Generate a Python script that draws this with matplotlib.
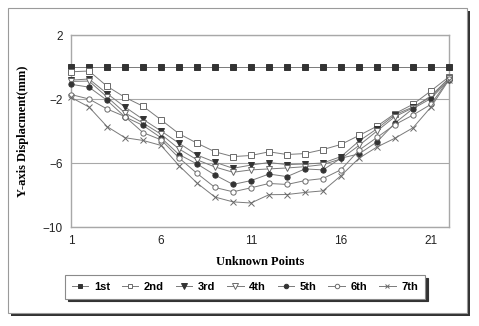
import matplotlib
matplotlib.use("Agg")
import matplotlib.pyplot as plt
from matplotlib.patches import Rectangle

# Survey epochs and measured vertical displacement (mm) at unknown points 1..22
points = list(range(1, 23))
series_names = ["1st", "2nd", "3rd", "4th", "5th", "6th", "7th"]

disp_1st = [0.0] * 22
disp_2nd = [-0.30, -0.25, -1.20, -1.90, -2.45, -3.30, -4.17, -4.76, -5.30, -5.60, -5.53,
            -5.30, -5.47, -5.41, -5.16, -4.84, -4.28, -3.70, -2.91, -2.33, -1.49, -0.61]
disp_3rd = [-0.82, -0.75, -1.66, -2.50, -3.27, -4.00, -4.76, -5.50, -5.95, -6.33, -6.13,
            -5.97, -6.10, -6.06, -6.00, -5.60, -4.63, -3.86, -2.98, -2.50, -1.87, -0.70]
disp_4th = [-0.90, -0.88, -1.87, -2.87, -3.50, -4.20, -5.12, -5.80, -6.25, -6.58, -6.43,
            -6.37, -6.31, -6.23, -6.10, -5.74, -4.90, -4.00, -3.10, -2.55, -1.80, -0.70]
disp_5th = [-1.08, -1.26, -2.08, -3.12, -3.65, -4.42, -5.47, -6.06, -6.75, -7.34, -7.10,
            -6.69, -6.85, -6.37, -6.43, -5.70, -5.43, -4.68, -3.50, -2.60, -1.97, -0.80]
disp_6th = [-1.72, -2.00, -2.62, -3.10, -4.10, -4.55, -5.68, -6.65, -7.53, -7.80, -7.55,
            -7.28, -7.34, -7.10, -6.97, -6.42, -5.20, -4.40, -3.60, -3.00, -2.33, -0.75]
disp_7th = [-1.90, -2.50, -3.72, -4.42, -4.59, -4.90, -6.16, -7.25, -8.13, -8.43, -8.50,
            -7.98, -7.97, -7.84, -7.74, -6.79, -5.70, -5.00, -4.45, -3.80, -2.50, -0.80]

x_ticks = [1, 6, 11, 16, 21]
y_ticks = [2, -2, -6, -10]

all_series = [disp_1st, disp_2nd, disp_3rd, disp_4th, disp_5th, disp_6th, disp_7th]

W, H, DPI = 479, 326, 100
fig = plt.figure(figsize=(W / DPI, H / DPI), dpi=DPI)
fig.patch.set_facecolor("white")


def fx(px):
    return px / W


def fy(py):
    return 1 - py / H


# outer chart frame with drop shadow
fig.patches.append(Rectangle((fx(11), fy(316)), fx(467 - 8), (313 - 8) / H,
                             transform=fig.transFigure, facecolor="#333333",
                             edgecolor="none", zorder=0))
fig.patches.append(Rectangle((fx(8), fy(313)), fx(467 - 8), (313 - 8) / H,
                             transform=fig.transFigure, facecolor="white",
                             edgecolor="#9a9a9a", linewidth=0.8, zorder=0.5))

ax = fig.add_axes([fx(71), fy(227), fx(449 - 71), (227 - 35) / H])
ax.set_facecolor("white")
ax.set_zorder(2)

styles = [
    dict(marker="s", mfc="#333333", mec="#333333", ms=3.8),
    dict(marker="s", mfc="white", mec="#6a6a6a", ms=4.0),
    dict(marker="v", mfc="#333333", mec="#333333", ms=4.3),
    dict(marker="v", mfc="white", mec="#6a6a6a", ms=4.3),
    dict(marker="o", mfc="#333333", mec="#333333", ms=3.8),
    dict(marker="o", mfc="white", mec="#6a6a6a", ms=3.8),
    dict(marker="x", mfc="#6a6a6a", mec="#6a6a6a", ms=3.8),
]

for name, vals, st in zip(series_names, all_series, styles):
    ax.plot(points, vals, color="#7a7a7a", linewidth=0.7, label=name,
            markeredgewidth=0.7, clip_on=False, zorder=3, **st)

ax.set_xlim(1, 22)
ax.set_ylim(-10, 2)
ax.set_xticks(x_ticks)
ax.set_yticks(y_ticks)
ax.tick_params(length=0, labelsize=8.5, pad=6, colors="#222222")
for lbl in ax.get_xticklabels() + ax.get_yticklabels():
    lbl.set_family("Liberation Sans")
ax.yaxis.grid(True, color="#a8a8a8", linewidth=0.8)
ax.set_axisbelow(True)
for sp in ax.spines.values():
    sp.set_color("#a8a8a8")
    sp.set_linewidth(1.0)

ax.set_xlabel("Unknown Points", family="Liberation Serif", fontweight="bold",
              fontsize=9, labelpad=6)
ax.set_ylabel("Y-axis Displacment(mm)", family="Liberation Serif",
              fontweight="bold", fontsize=9, labelpad=10)

leg = fig.legend(loc="center", bbox_to_anchor=(fx(245), fy(287)), ncol=7,
                 prop={"family": "Liberation Sans", "weight": "bold", "size": 8},
                 frameon=True, fancybox=False, handlelength=1.5,
                 handletextpad=0.5, columnspacing=1.05, borderpad=0.6,
                 markerscale=0.85,
                 shadow={"color": "#333333", "alpha": 1.0})
leg.get_frame().set_edgecolor("#8a8a8a")
leg.get_frame().set_linewidth(0.8)
leg.set_zorder(3)

fig.savefig("out.png", dpi=DPI)
